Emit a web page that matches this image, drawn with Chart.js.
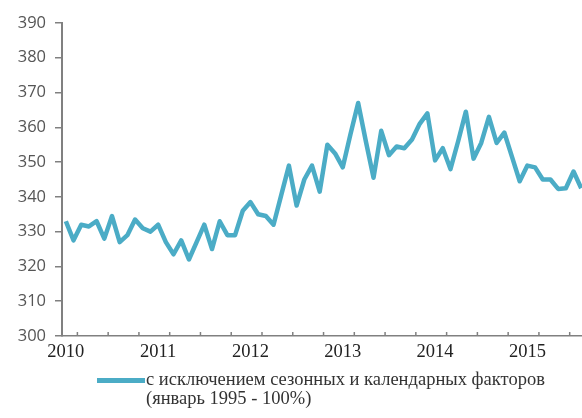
<!DOCTYPE html>
<html>
<head>
<meta charset="utf-8">
<script src="https://cdn.jsdelivr.net/npm/chart.js@4"></script>
<style>
  html, body { margin: 0; padding: 0; background: #fff; }
  #wrap { position: relative; width: 582px; height: 418px; }
  #legend {
    position: absolute; left: 97px; top: 370px;
    font-family: 'Liberation Serif', serif; font-size: 18.5px; color: #333;
    line-height: 19px;
  }
  #legend .swatch {
    position: absolute; left: 0; top: 8px; width: 48px; height: 5px; background: #4BACC6;
  }
  #legend .txt { margin-left: 49px; white-space: nowrap; }
</style>
</head>
<body>
<div id="wrap">
  <canvas id="chart" width="582" height="418"></canvas>
  <div id="legend">
    <div class="swatch"></div>
    <div class="txt">с исключением сезонных и календарных факторов<br>(январь 1995 - 100%)</div>
  </div>
</div>
<script>
// monthly index, Jan 2010 .. Aug 2015
const years = ['2010', '2011', '2012', '2013', '2014', '2015'];
const seriesLabel = 'с исключением сезонных и календарных факторов (январь 1995 - 100%)';
const values2010 = [333, 327.5, 332, 331.5, 333, 328, 334.5, 327, 329, 333.5, 331, 330];
const values2011 = [332, 327, 323.5, 327.5, 322, 327, 332, 325, 333, 329, 329, 336];
const values2012 = [338.5, 335, 334.5, 332, 340.5, 349, 337.5, 345, 349, 341.5, 355, 352.5];
const values2013 = [348.5, 358, 367, 356, 345.5, 359, 352, 354.5, 354, 356.5, 361, 364];
const values2014 = [350.5, 354, 348, 356, 364.5, 351, 355.5, 363, 355.5, 358.5, 351.5, 344.5];
const values2015 = [349, 348.5, 345, 345, 342.3, 342.5, 347.3, 342.5];
const yTicks = [300, 310, 320, 330, 340, 350, 360, 370, 380, 390];

const allValues = [].concat(values2010, values2011, values2012, values2013, values2014, values2015);
const points = allValues.map((v, i) => ({ x: i, y: v }));
const yearTickValues = years.map((y, i) => i * 12);
// small marks on the x axis every 4 months
const minorTickValues = [];
for (let m = 1.5; m < allValues.length; m += 4) minorTickValues.push(m);

const minorTicks = {
  id: 'minorTicks',
  afterDraw(chart) {
    const sx = chart.scales.x;
    const ctx = chart.ctx;
    const yPix = chart.chartArea.bottom;
    ctx.save();
    ctx.strokeStyle = '#808080';
    ctx.lineWidth = 1.5;
    minorTickValues.forEach(v => {
      const px = sx.getPixelForValue(v);
      if (px > chart.chartArea.right) return;
      ctx.beginPath();
      ctx.moveTo(px, yPix);
      ctx.lineTo(px, yPix - 4);
      ctx.stroke();
    });
    ctx.restore();
  }
};

new Chart(document.getElementById('chart'), {
  type: 'line',
  data: {
    datasets: [{
      label: seriesLabel,
      data: points,
      borderColor: '#4BACC6',
      borderWidth: 4.5,
      pointRadius: 0,
      tension: 0,
      borderJoinStyle: 'round',
      fill: false
    }]
  },
  options: {
    responsive: false,
    animation: false,
    layout: { padding: { top: 23, right: 0, bottom: 42, left: 0 } },
    plugins: {
      legend: { display: false },
      tooltip: { enabled: false }
    },
    scales: {
      x: {
        type: 'linear',
        min: -0.5,
        max: 67.1,
        afterBuildTicks: scale => { scale.ticks = yearTickValues.map(v => ({ value: v })); },
        afterFit: scale => { scale.height = 40; },
        ticks: {
          autoSkip: false,
          maxRotation: 0,
          padding: 5,
          color: '#222',
          font: { family: "'Liberation Serif', serif", size: 18.5 },
          callback: v => years[v / 12]
        },
        grid: { display: false, drawTicks: false },
        border: { display: true, color: '#808080', width: 1.5 }
      },
      y: {
        min: 300,
        max: 390,
        afterBuildTicks: scale => { scale.ticks = yTicks.map(v => ({ value: v })); },
        afterFit: scale => { scale.width = 62; },
        ticks: {
          padding: 9,
          color: '#555',
          font: { family: "'Open Sans', sans-serif", size: 16.5 }
        },
        grid: { drawOnChartArea: false, drawTicks: true, tickLength: 7, color: '#808080', lineWidth: 1.5 },
        border: { display: true, color: '#808080', width: 2 }
      }
    }
  },
  plugins: [minorTicks]
});
</script>
</body>
</html>
